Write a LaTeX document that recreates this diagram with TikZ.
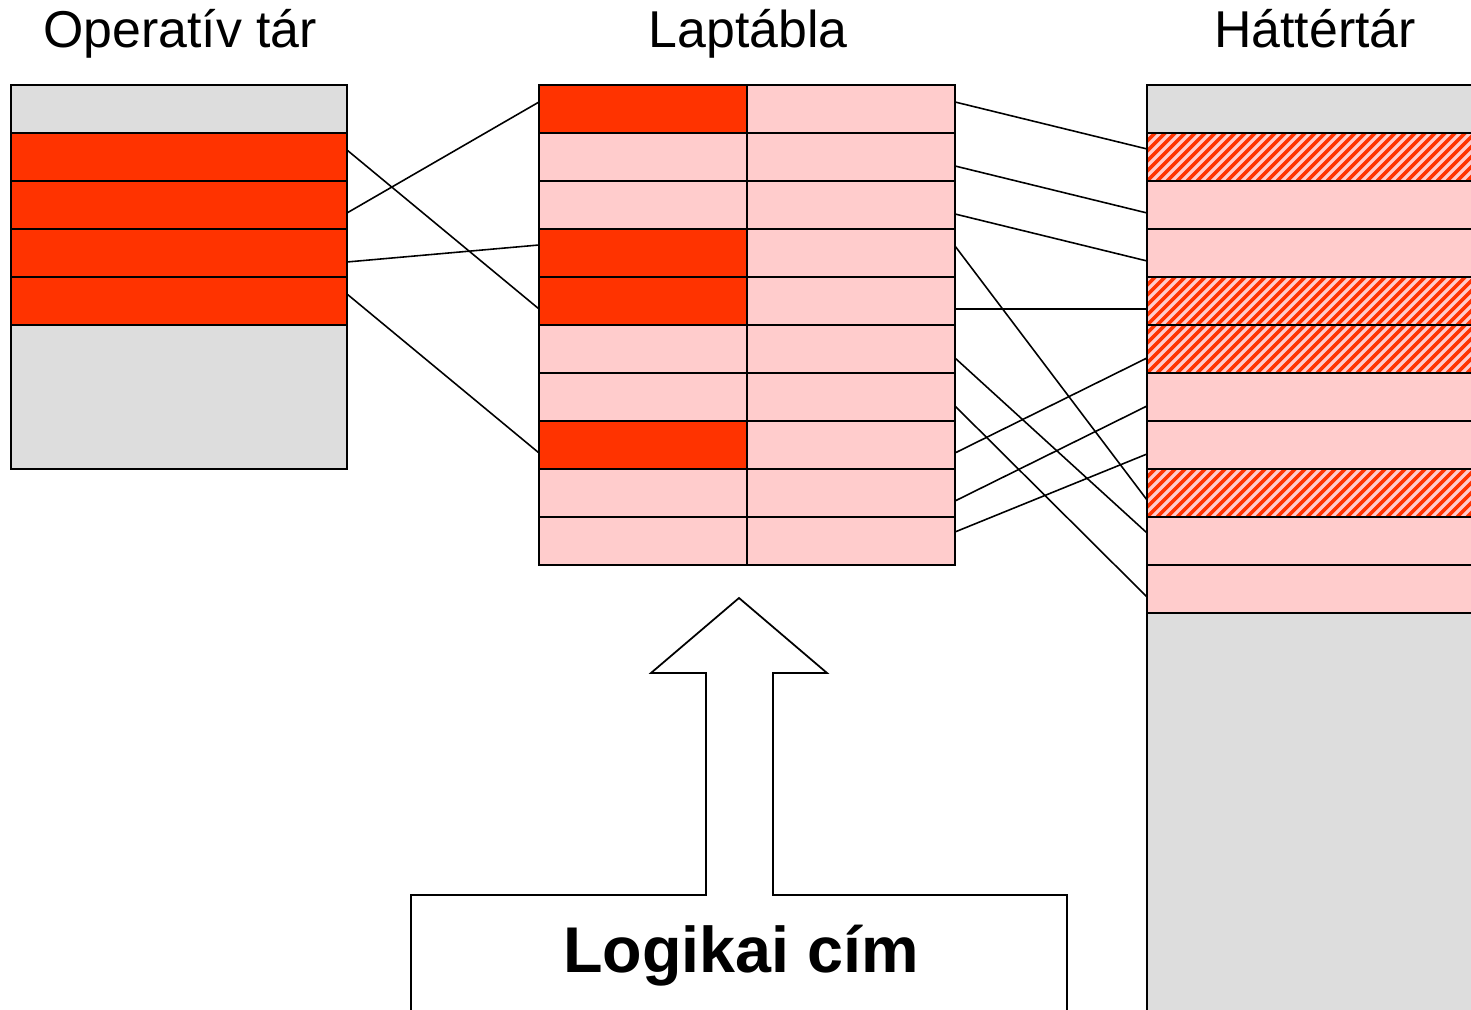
\documentclass[tikz,border=0pt]{standalone}
\usepackage{fontspec}
\setmainfont{Liberation Sans}
\usetikzlibrary{calc}
\definecolor{pagered}{RGB}{255,51,0}
\definecolor{pagepink}{RGB}{255,204,204}
\definecolor{storegray}{RGB}{221,221,221}

\begin{document}
\begin{tikzpicture}[x=0.02cm, y=0.02cm,
    cell/.style={draw=black, line width=1pt, inner sep=0pt, outer sep=0pt, minimum height=0.96cm},
    used/.style={fill=pagered},
    plain/.style={fill=pagepink},
    stripe/.style={pagered, line width=2pt},
    link/.style={line width=0.9pt, black},
    title/.style={font=\fontsize{29.5}{34}\selectfont, anchor=base}]
    \useasboundingbox (0,0) rectangle (1471,1010);
    \clip (0,0) rectangle (1471,1010);

    % Titles
    \node[title] (t-op) at (180,962) {Operatív tár};
    \node[title] (t-lt) at (748,962) {Laptábla};
    \node[title] (t-ht) at (1315,962) {Háttértár};

    % Operativ tar
    \node[cell, fill=storegray, minimum width=6.72cm, minimum height=7.68cm] (opbox) at (179,733) {};
    \foreach \i in {1,...,4} {
        \node[cell, used, minimum width=6.72cm] (op\i) at (179,{853-48*(\i-1)}) {};
    }

    % Laptabla: two columns, ten rows
    \foreach \i/\s in {1/used,2/plain,3/plain,4/used,5/used,6/plain,7/plain,8/used,9/plain,10/plain} {
        \node[cell, \s, minimum width=4.16cm] (la\i) at (643,{901-48*(\i-1)}) {};
        \node[cell, plain, minimum width=4.16cm] (lb\i) at (851,{901-48*(\i-1)}) {};
    }

    % Hattertar
    \node[cell, fill=storegray, minimum width=6.66cm, minimum height=18.7cm] (htbox) at (1313.5,457.5) {};
    \foreach \i in {1,...,10} {
        \node[cell, plain, minimum width=6.66cm] (ht\i) at (1313.5,{853-48*(\i-1)}) {};
    }
    % pages that are also loaded
    \foreach \i in {1,4,5,8} {
        \begin{scope}
            \clip (ht\i.south west) rectangle (ht\i.north east);
            \foreach \k in {0,...,38}
                \draw[stripe] ($(ht\i.south west)+(10*\k-50,0)$) -- ++(60,60);
        \end{scope}
        \draw[line width=1pt] (ht\i.south west) rectangle (ht\i.north east);
    }

    % Frames in memory
    \foreach \a/\da/\b/\db in {op1/7/la5/-8, op2/-8/la1/7, op3/-9/la4/8, op4/7/la8/-8} {
        \draw[link] ($(\a.east)+(0,\da)$) -- ($(\b.west)+(0,\db)$);
    }

    % Pages on disk
    \foreach \a/\da/\b/\db in {lb1/7/ht1/8, lb2/-9/ht2/-8, lb3/-9/ht3/-8, lb4/7/ht8/-7, lb5/-8/ht4/-8,
                               lb6/-9/ht9/8, lb7/-9/ht10/-8, lb8/-8/ht5/-9, lb9/-8/ht6/-9, lb10/9/ht7/-9} {
        \draw[link] ($(\a.east)+(0,\da)$) -- ($(\b.west)+(0,\db)$);
    }

    % Address arrow
    \draw[line width=1pt] (411,-10) -- (411,115) -- (706,115) -- (706,337) -- (651,337) -- (739,412)
        -- (827,337) -- (773,337) -- (773,115) -- (1067,115) -- (1067,-10);
    \node[font=\fontsize{36.8}{40}\selectfont\bfseries, anchor=base] (addr) at (741,37) {Logikai cím};
\end{tikzpicture}
\end{document}
